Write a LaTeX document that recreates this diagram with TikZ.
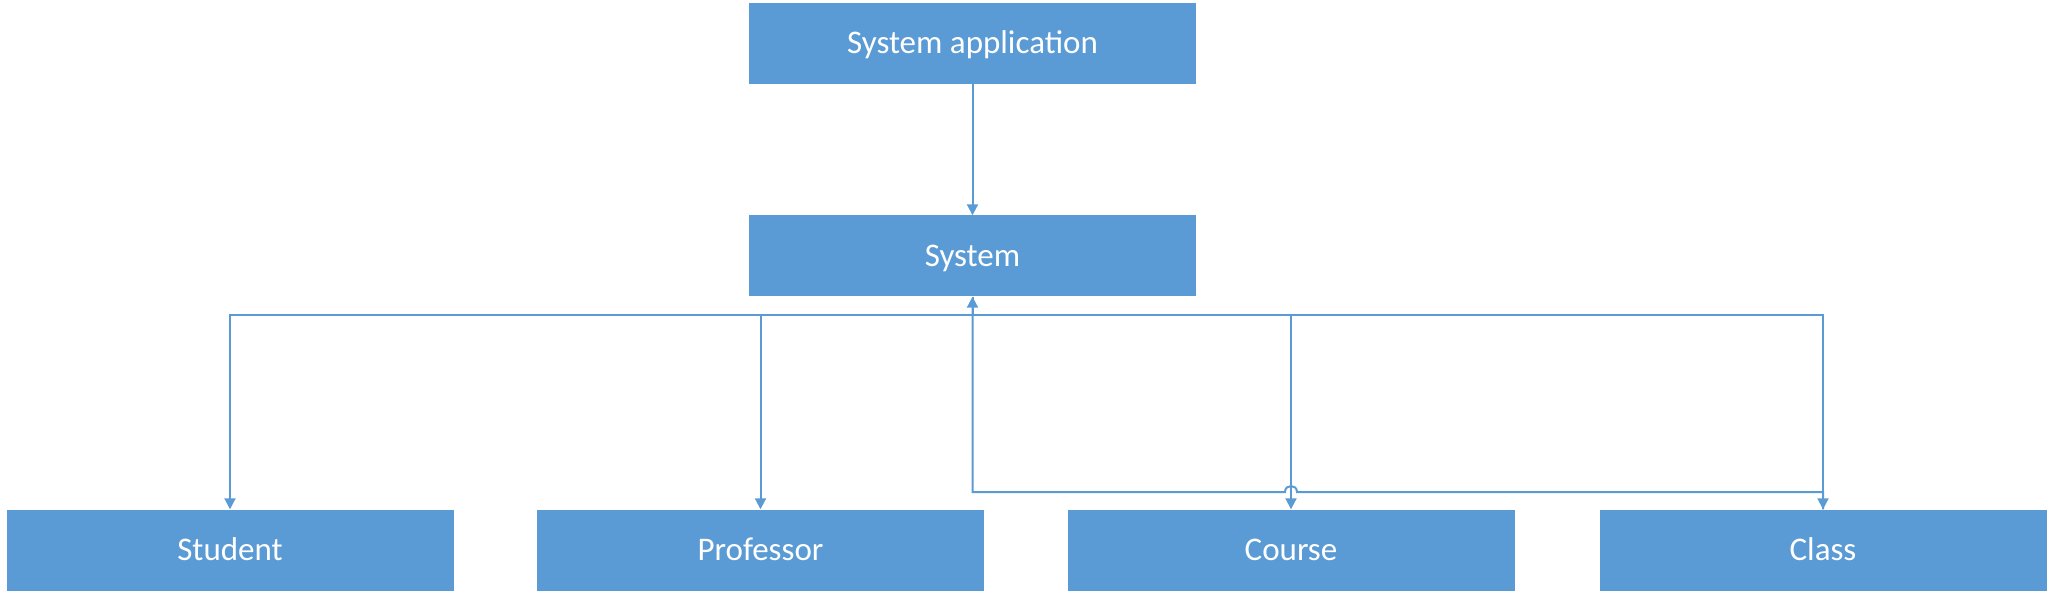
\documentclass[tikz,border=0pt]{standalone}
\usepackage{fontspec}
\setmainfont{Carlito}
\usetikzlibrary{arrows.meta}
\definecolor{boxblue}{HTML}{5B9BD5}
\tikzset{
  box/.style={fill=boxblue, draw=none, minimum width=447pt, minimum height=81pt, inner sep=0pt, text height=21pt, text depth=0pt, text=white, font=\fontsize{33}{40}\selectfont},
  conn/.style={draw=boxblue, line width=2pt},
  tip/.style={-{Triangle[width=11pt,length=11pt]}}
}
\begin{document}
\begin{tikzpicture}[x=1pt,y=-1pt]
\useasboundingbox (0,0) rectangle (2054,601);
\node[box] (app) at (972.5,43.5) {System application};
\node[box] (sys) at (972.5,256) {System};
\node[box] (stu) at (230,550) {Student};
\node[box] (pro) at (760.5,550) {Professor};
\node[box] (cou) at (1291,550) {Course};
\node[box] (cla) at (1823,550) {Class};
\draw[conn,tip] (app) -- (sys);
\coordinate (bus) at (972.5,315);
\draw[conn] (sys.south) -- (bus);
\draw[conn,tip] (bus) -| (stu.north);
\draw[conn,tip] (bus) -| (pro.north);
\draw[conn,tip] (bus) -| (cou.north);
\draw[conn,tip] (bus) -| (cla.north);
\coordinate (ret) at (1823,492);
\coordinate (hopR) at (1297,492);
\coordinate (hopL) at (1285,492);
\coordinate (corner) at (972.5,492);
\draw[conn,tip] (cla.north) -- (ret) -- (hopR) .. controls (1297,484) and (1285,484) .. (hopL) -- (corner) -- (sys.south);
\end{tikzpicture}
\end{document}
